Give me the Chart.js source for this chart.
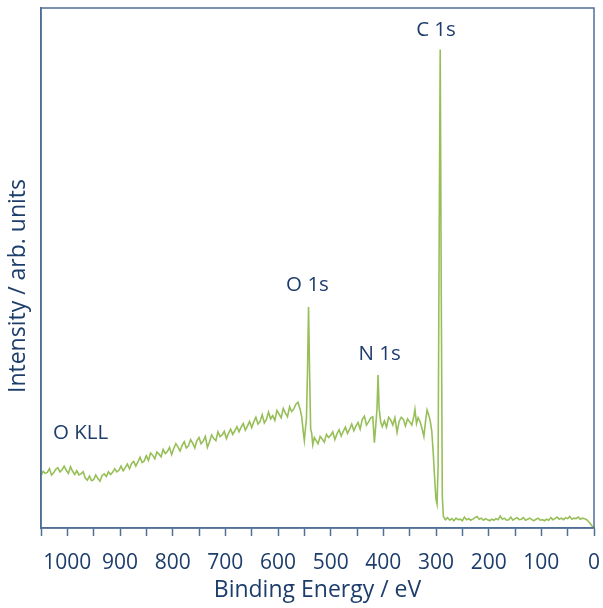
<!DOCTYPE html>
<html>
<head>
<meta charset="utf-8">
<script src="https://cdn.jsdelivr.net/npm/chart.js@4.4.1/dist/chart.umd.min.js"></script>
<style>
  html, body { margin: 0; padding: 0; background: #fff; }
  #wrap { width: 603px; height: 608px; }
</style>
</head>
<body>
<div id="wrap"><canvas id="xps"></canvas></div>
<script>
// Binding energy (eV) and intensity (arb. units, 0..100 of the plot height)
const energia = [
  1050,1046,1042,1038,1034,1030,1026,1022,1018,1014,
  1010,1006,1002,998,994,990,986,982,978,974,
  970,966,962,958,954,950,946,942,938,934,
  930,926,922,918,914,910,906,902,898,894,
  890,886,882,878,874,870,866,862,858,854,
  850,846,842,838,834,830,826,822,818,814,
  810,806,802,798,794,790,786,782,778,774,
  770,766,762,758,754,750,746,742,738,734,
  730,726,722,718,714,710,706,702,698,694,
  690,686,682,678,674,670,666,662,658,654,
  650,646,642,638,634,630,626,622,618,614,
  610,606,602,598,594,590,586,582,578,574,
  570,566,562,
  558,555,552,550,548,546,544,542,540,538,536,534,531,
  528,524,520,516,512,508,504,500,496,492,
  488,484,480,476,472,468,464,460,456,452,
  448,444,440,436,432,428,424,
  420,417,414,412,410,408,405,402,
  398,394,390,386,382,378,374,370,366,362,
  358,354,350,346,342,340,337,334,330,326,
  323,320,317,314,311,308,305,302,300,298,
  296,294,292,290,288,286,
  282,278,274,270,266,262,258,254,250,246,
  242,238,234,230,226,222,218,214,210,206,
  202,198,194,190,186,182,178,174,170,166,
  162,158,154,150,146,142,138,134,130,126,
  122,118,114,110,106,102,98,94,90,86,
  82,78,74,70,66,62,58,54,50,46,
  42,38,34,30,26,22,18,14,10,6,3,1
];
const intensidade = [
  10.0,10.9,10.5,10.7,11.4,10.2,10.6,11.3,11.6,10.8,
  11.2,11.9,11.1,10.5,11.8,10.9,10.3,11.0,10.2,10.4,
  10.8,9.6,9.2,10.0,9.1,9.3,10.2,9.5,9.0,10.1,
  10.4,9.9,10.8,10.3,10.7,11.4,10.8,11.1,11.9,11.0,
  11.6,12.3,11.4,12.4,12.8,11.9,12.7,13.6,12.6,12.9,
  13.9,13.0,14.4,14.0,13.3,14.6,14.2,13.7,15.1,14.3,
  14.7,15.5,14.1,15.3,16.2,15.6,14.8,15.9,16.6,15.4,
  15.8,17.0,16.3,15.4,16.8,17.4,16.2,16.7,17.6,15.5,
  16.6,17.9,17.2,16.8,18.5,17.6,17.9,18.6,17.2,18.2,
  19.0,18.0,18.7,19.5,18.5,19.4,20.1,18.8,19.6,20.5,
  19.3,20.4,21.3,20.0,20.5,21.8,20.2,20.9,22.3,21.0,
  21.6,20.7,22.6,21.9,21.2,23.0,22.1,21.4,23.3,22.4,
  22.9,23.8,24.2,
  22.8,21.4,18.5,16.8,19.0,21.0,30.0,42.5,30.0,19.0,18.2,16.0,17.4,
  16.9,16.2,17.6,17.1,16.5,18.0,17.4,17.8,18.5,17.0,
  18.1,18.9,17.7,18.6,19.4,18.2,19.0,20.0,18.7,19.6,
  20.3,19.0,20.9,21.5,19.8,20.4,21.2,
  21.4,16.4,20.2,23.0,29.4,23.0,20.4,19.5,
  20.6,19.4,21.3,20.8,19.8,21.2,18.4,20.5,21.3,20.9,
  19.6,21.0,20.4,19.8,21.5,22.8,20.1,21.2,20.4,18.9,
  17.6,20.4,22.7,21.8,20.6,18.6,14.0,8.5,5.5,4.6,
  12.0,55.0,92.0,45.0,6.0,2.2,
  1.6,2.0,1.5,1.8,1.4,1.9,1.6,1.7,1.4,2.1,
  1.6,1.8,1.5,1.7,2.0,2.2,1.7,1.9,1.5,1.8,
  1.6,1.4,1.7,1.5,1.8,1.6,2.3,1.7,1.9,1.5,
  1.6,2.1,1.5,1.8,2.0,1.6,1.7,2.0,1.5,1.7,
  1.9,1.6,1.4,1.7,1.9,1.5,1.6,1.4,1.7,1.5,
  2.0,1.6,1.8,2.1,1.7,1.9,1.6,2.0,1.8,2.2,
  1.7,1.9,1.8,2.1,1.7,1.9,1.8,1.6,1.2,0.7,0.3,0.1
];

// Peak labels (text, energy, intensity where the label sits)
const picoNomes = ['C 1s', 'O 1s', 'N 1s', 'O KLL'];
const picoEnergia = [300, 544, 407, 975];
const picoAltura = [95.8, 46.7, 33.5, 18.3];

const corTexto = '#1d3d6b';
const corEixo = '#4f6f96';
const corLinha = '#97bf58';
const fonte = '"Open Sans", "Noto Sans", sans-serif';

const pontos = energia.map((e, i) => ({ x: e, y: intensidade[i] }));

// desenha moldura, legendas dos picos e titulo do eixo y
const extras = {
  id: 'extras',
  afterDraw(chart) {
    const { ctx, chartArea: a, scales } = chart;
    ctx.save();
    ctx.strokeStyle = corEixo;
    ctx.lineWidth = 1.5;
    ctx.strokeRect(a.left, a.top, a.right - a.left, a.bottom - a.top);

    ctx.fillStyle = corTexto;
    ctx.font = '20.5px ' + fonte;
    ctx.textAlign = 'center';
    ctx.textBaseline = 'middle';
    picoNomes.forEach((nome, i) => {
      ctx.fillText(nome, scales.x.getPixelForValue(picoEnergia[i]), scales.y.getPixelForValue(picoAltura[i]));
    });

    ctx.font = '23px ' + fonte;
    ctx.translate(18, 286);
    ctx.rotate(-Math.PI / 2);
    ctx.fillText('Intensity / arb. units', 0, 0);
    ctx.restore();
  }
};

const ctx = document.getElementById('xps').getContext('2d');
new Chart(ctx, {
  type: 'line',
  data: {
    datasets: [{
      data: pontos,
      borderColor: corLinha,
      borderWidth: 1.6,
      pointRadius: 0,
      tension: 0,
      fill: false
    }]
  },
  options: {
    responsive: true,
    maintainAspectRatio: false,
    animation: false,
    layout: { padding: { top: 8, right: 9, left: 0, bottom: 0 } },
    plugins: {
      legend: { display: false },
      tooltip: { enabled: false }
    },
    scales: {
      x: {
        type: 'linear',
        reverse: true,
        min: 0,
        max: 1050,
        afterFit: s => { s.height = 80; s.paddingLeft = 0; s.paddingRight = 0; },
        border: { display: true, color: corEixo, width: 1.5 },
        grid: {
          drawOnChartArea: false,
          drawTicks: true,
          tickLength: 8,
          tickWidth: 1.5,
          color: corEixo
        },
        ticks: {
          stepSize: 50,
          autoSkip: false,
          maxRotation: 0,
          padding: 14,
          color: corTexto,
          font: { family: fonte, size: 21 },
          callback: v => (v % 100 === 0 ? String(v) : '')
        },
        title: {
          display: true,
          text: 'Binding Energy / eV',
          color: corTexto,
          font: { family: fonte, size: 23 },
          padding: { top: 0, bottom: 4 }
        }
      },
      y: {
        min: 0,
        max: 100,
        afterFit: s => { s.width = 41; },
        border: { display: true, color: corEixo, width: 1.5 },
        grid: { display: false },
        ticks: { display: false }
      }
    }
  },
  plugins: [extras]
});
</script>
</body>
</html>
